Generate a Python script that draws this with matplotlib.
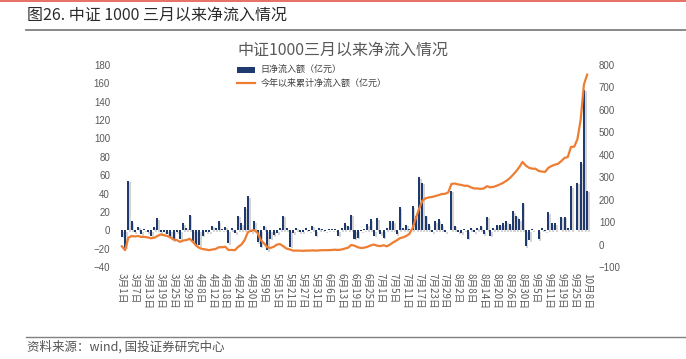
import numpy as np
import matplotlib
matplotlib.use("Agg")
import matplotlib.pyplot as plt
import matplotlib.patheffects as pe
from matplotlib.patches import Patch, Rectangle
from matplotlib.lines import Line2D

plt.rcParams['font.family'] = ['Noto Sans CJK SC', 'DejaVu Sans']

# tick label every 4 trading days, 2024-03-01 .. 2024-10-08
date_ticks = ["3月1日", "3月7日", "3月13日", "3月19日", "3月25日", "3月29日",
              "4月8日", "4月12日", "4月18日", "4月24日", "4月30日", "5月9日",
              "5月15日", "5月21日", "5月27日", "5月31日", "6月6日", "6月13日",
              "6月19日", "6月25日", "7月1日", "7月5日", "7月11日", "7月17日",
              "7月23日", "7月29日", "8月2日", "8月8日", "8月14日", "8月20日",
              "8月26日", "8月30日", "9月5日", "9月11日", "9月19日", "9月25日",
              "10月8日"]

# 日净流入额（亿元）
daily_flow = [-7, -19, 54, 10, -2, 4, -4, 1, -2, -6, 4, 13,
              -2, -2, -4, -8, -11, -2, -10, 8, 3, 17, -12, -17,
              -16, -6, -2, -2, 5, 2, 10, 1, 4, -14, 2, -3,
              16, 8, 25, 37, -2, 10, -13, -18, 5, -22, -9, -5,
              -3, 3, 16, 2, -18, -3, 3, -2, -2, 2, -1, 5,
              -6, 3, 1, -1, 1, 1, 1, -6, 2, 8, 5, 17,
              -9, -8, -1, 1, 7, 12, -6, 13, -4, -8, 2, 10,
              10, -4, 25, 3, 6, 1, 26, 16, 58, 52, 16, 7,
              -2, 10, 12, 7, -2, 0, 43, 5, -2, -3, 1, -9,
              3, -2, 3, 5, -4, 15, -6, 3, 6, 6, 8, 10,
              7, 21, 16, 12, 30, -17, -11, 1, 0, -10, 2, -1,
              20, 8, 8, 0, 15, 15, 2, 48, 0, 52, 74, 153,
              43]

# 今年以来累计净流入额（亿元）
cum_flow = [-8, -25, 30, 38, 36, 38, 34, 34, 32, 28, 30, 38,
            45, 42, 38, 32, 22, 20, 12, 18, 20, 26, 12, -5,
            -15, -20, -22, -25, -22, -20, -12, -12, -10, -24, -24, -25,
            -10, 0, 20, 55, 62, 64, 52, 20, 5, -12, -15, -10,
            0, 2, -8, -18, -22, -27, -27, -27, -28, -27, -27, -26,
            -27, -26, -25, -25, -25, -24, -23, -24, -22, -18, -14, -2,
            -5, -12, -15, -14, -10, -4, 0, -5, -7, -3, -8, 0,
            10, 18, 28, 32, 38, 48, 74, 118, 160, 195, 206, 210,
            212, 216, 220, 225, 226, 232, 270, 272, 268, 266, 262, 262,
            255, 250, 250, 248, 250, 260, 255, 257, 262, 268, 275, 284,
            295, 310, 326, 345, 368, 352, 342, 338, 338, 328, 325, 324,
            342, 350, 356, 360, 372, 386, 390, 435, 436, 470, 557, 713,
            757]

W, H = 686, 359
navy = "#1f3a6e"
orange = "#ed7d31"
grey_txt = "#595959"

x = np.arange(len(daily_flow))

fig = plt.figure(figsize=(W / 100, H / 100), dpi=100)

# top strip and heading
fig.add_artist(Rectangle((0, 1 - 2 / H), 1, 2 / H, transform=fig.transFigure,
                         color="#e57368", lw=0))
fig.text(27 / W, 1 - 15 / H, "图26. 中证 1000 三月以来净流入情况", fontsize=11.5,
         color="#2b2b2b", va="center", ha="left")
fig.add_artist(Line2D([26 / W, 1], [1 - 29.5 / H] * 2, transform=fig.transFigure,
                      color="#808080", lw=1.3))

# source line
fig.add_artist(Line2D([26 / W, 1], [1 - 336.5 / H] * 2, transform=fig.transFigure,
                      color="#808080", lw=1.0))
fig.text(27 / W, 1 - 347 / H, "资料来源：wind, 国投证券研究中心", fontsize=9,
         style="italic", color="#555555", va="center", ha="left")

ax = fig.add_axes([117 / W, 1 - 267 / H, 475 / W, 202 / H])
ax2 = ax.twinx()

bars = ax.bar(x, daily_flow, width=0.62, color=navy, zorder=2)
for b in bars:
    b.set_path_effects([pe.SimplePatchShadow(offset=(1.2, -1.2), shadow_rgbFace="#888888",
                                             alpha=0.35), pe.Normal()])
ax2.plot(x, cum_flow, color=orange, lw=1.6, zorder=3)

ax.set_xlim(-1.5, len(daily_flow) + 0.5)
ax.set_ylim(-40, 180)
ax.set_yticks(np.arange(-40, 181, 20))
ax2.set_ylim(-100, 800)
ax2.set_yticks(np.arange(-100, 801, 100))

ax.set_xticks(x[::4])
ax.set_xticklabels(date_ticks, rotation=-90, fontsize=8, color=grey_txt)

for a in (ax, ax2):
    for s in a.spines.values():
        s.set_visible(False)
    a.tick_params(length=0, labelsize=7, labelcolor=grey_txt)
ax.tick_params(axis="y", pad=5)
ax2.tick_params(axis="y", pad=5)
ax.tick_params(axis="x", pad=4)
for lab in ax.get_yticklabels() + ax2.get_yticklabels():
    lab.set_family(["Liberation Sans", "DejaVu Sans"])

fig.text(343 / W, 1 - 50 / H, "中证1000三月以来净流入情况", fontsize=11.5,
         color=grey_txt, ha="center", va="center")

handles = [Patch(facecolor=navy, edgecolor="none"),
           Line2D([], [], color=orange, lw=1.6)]
fig.legend(handles, ["日净流入额（亿元）", "今年以来累计净流入额（亿元）"],
           loc="upper left", bbox_to_anchor=(229 / W, 1 - 58 / H), frameon=False,
           fontsize=6.5, handlelength=2.0, handleheight=0.5, handletextpad=0.6,
           labelspacing=0.35, labelcolor="#404040")

fig.savefig("out.png", dpi=100)
